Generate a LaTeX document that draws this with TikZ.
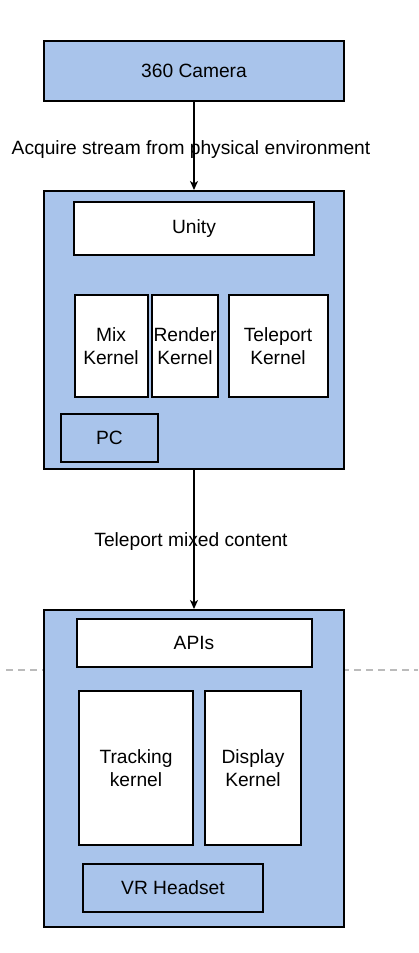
\documentclass[tikz,border=0pt]{standalone}
\usepackage{fontspec}
\setmainfont{Liberation Sans}
\usetikzlibrary{arrows.meta}
\definecolor{boxblue}{HTML}{A9C4EB}
\definecolor{dashgray}{HTML}{BBBBBB}
\begin{document}
\begin{tikzpicture}[x=1pt,y=-1pt,
  every node/.style={font=\fontsize{19.2}{23}\selectfont, align=center, inner sep=0pt},
  bluebox/.style={draw=black, line width=2pt, fill=boxblue, rectangle},
  whitebox/.style={draw=black, line width=2pt, fill=white, rectangle},
  arr/.style={line width=1.5pt, -{Stealth[length=9pt,width=8pt,inset=2.5pt]}},
  divider/.style={draw=dashgray, line width=1.5pt, dash pattern=on 7pt off 5pt}
]
\useasboundingbox (0,0) rectangle (418,953);
% dashed separator
\coordinate (dl) at (6,670);
\coordinate (dr) at (418,670);
\draw[divider] (dl) -- (dr);

% camera
\node[bluebox, minimum width=300pt, minimum height=60pt] (cam) at (194,71) {360 Camera};

% PC container
\node[bluebox, minimum width=300pt, minimum height=278pt] (pcbox) at (194,330) {};
\node[whitebox, minimum width=240pt, minimum height=53pt] (unity) at (194,228.5) {Unity};
\node[whitebox, minimum width=73pt, minimum height=102pt] (mix) at (111,346) {Mix\\Kernel};
\node[whitebox, minimum width=66pt, minimum height=102pt] (render) at (185,346) {Render\\Kernel};
\node[whitebox, minimum width=99pt, minimum height=102pt] (tele) at (278,346) {Teleport\\Kernel};
\node[bluebox, minimum width=97pt, minimum height=48pt] (pc) at (109.5,438) {PC};

% headset container
\node[bluebox, minimum width=300pt, minimum height=317pt] (hsbox) at (194,768.5) {};
\node[whitebox, minimum width=235pt, minimum height=48pt] (apis) at (194,643) {APIs};
\node[whitebox, minimum width=114pt, minimum height=154pt] (track) at (136,768) {Tracking\\kernel};
\node[whitebox, minimum width=96pt, minimum height=154pt] (disp) at (253,768) {Display\\Kernel};
\node[bluebox, minimum width=180pt, minimum height=48pt] (vr) at (173,888) {VR Headset};

% connectors
\draw[arr] (cam.south) -- (pcbox.north);
\draw[arr] (pcbox.south) -- (hsbox.north);

% labels
\node[anchor=base] (lab1) at (191,154.5) {Acquire stream from physical environment};
\node[anchor=base] (lab2) at (191,546.5) {Teleport mixed content};
\end{tikzpicture}
\end{document}
